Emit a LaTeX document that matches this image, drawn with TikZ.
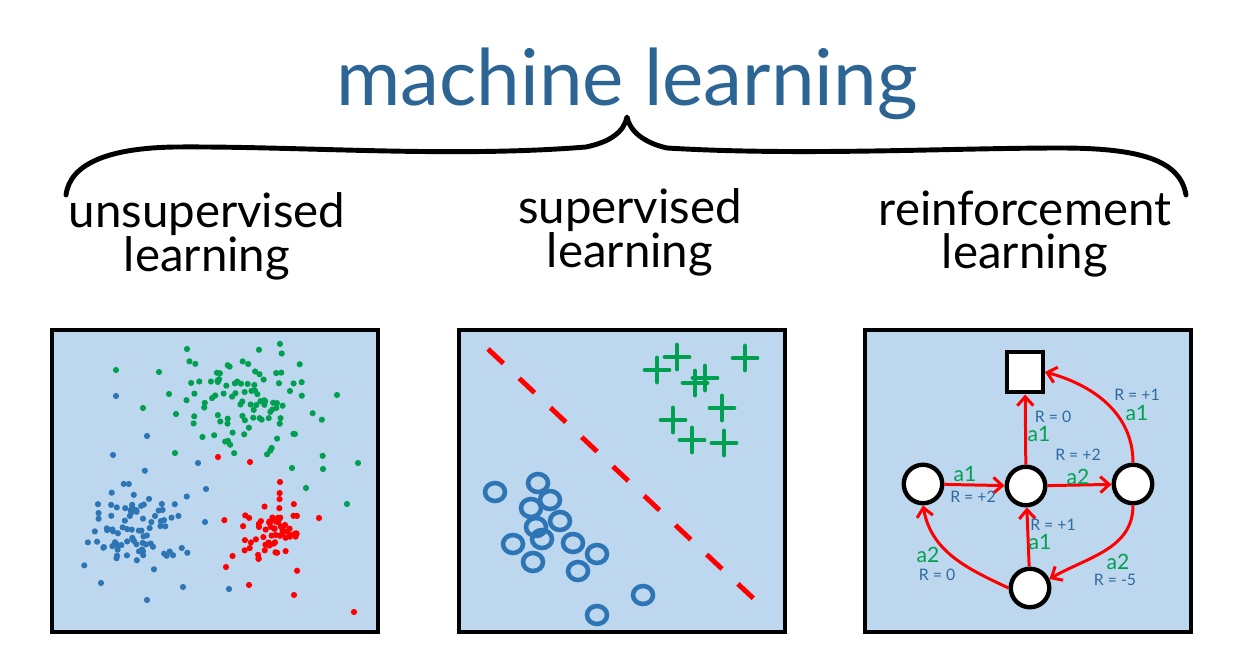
\documentclass[tikz,border=0pt]{standalone}
\usepackage{fontspec}
\setmainfont{Lato}
\usetikzlibrary{arrows.meta,positioning}
\definecolor{panelbg}{RGB}{189,215,238}
\definecolor{titleblue}{RGB}{44,100,148}
\definecolor{rblue}{RGB}{46,106,160}
\definecolor{dotblue}{RGB}{46,117,182}
\definecolor{dotgreen}{RGB}{0,160,80}
\definecolor{dotred}{RGB}{255,0,0}
\tikzset{
  panel/.style = {rectangle, draw=black, fill=panelbg, line width=2.3pt,
                  minimum width=6.52cm, minimum height=6.06cm, inner sep=0pt},
  title/.style = {text=titleblue, font=\fontsize{44.5}{48}\selectfont, inner sep=0pt},
  cat/.style   = {align=center, font=\fontsize{27}{25}\selectfont, inner sep=0pt},
  brace/.style = {line width=2.8pt, line cap=round, line join=round},
  ring/.style  = {draw=dotblue, line width=2.6pt},
  plus/.style  = {draw=dotgreen, line width=2.8pt, line cap=round},
  sep/.style   = {draw=dotred, line width=2.8pt, dash pattern=on 12pt off 12.4pt},
  state/.style = {circle, draw=black, fill=white, line width=2.5pt,
                  minimum size=0.77cm, inner sep=0pt},
  goal/.style  = {rectangle, draw=black, fill=white, line width=2.5pt,
                  minimum width=0.71cm, minimum height=0.81cm, inner sep=0pt},
  act/.style   = {-{Straight Barb[length=1.8mm, width=3.2mm]}, draw=dotred, line width=1.7pt},
  rlbl/.style  = {text=rblue, font=\fontsize{9}{10}\selectfont, inner sep=0pt},
  albl/.style  = {text=dotgreen, font=\fontsize{12}{13}\selectfont, inner sep=0pt},
}

\begin{document}
\begin{tikzpicture}[x=0.02cm, y=-0.02cm]
  \useasboundingbox (0,0) rectangle (1234,656);

  % title and brace
  \node[title, anchor=base] (ml) at (627,105) {machine learning};
  \draw[brace] (66,195) .. controls (70,163) and (110,148) .. (175,147)
    .. controls (300,146) and (450,158) .. (586,147)
    .. controls (610,142) and (624,132) .. (627,117)
    .. controls (630,132) and (645,143) .. (667,148)
    .. controls (800,156) and (950,148) .. (1060,148)
    .. controls (1140,148) and (1180,160) .. (1186,195);

  \node[cat] (ul) at (207,236) {unsupervised\\learning};
  \node[cat] (sl) at (630,232) {supervised\\learning};
  \node[cat] (rl) at (1025,234) {reinforcement\\learning};

  % panels
  \node[panel] (pu) at (215,481) {};
  \node[panel] (ps) at (622,481) {};
  \node[panel] (pr) at (1028,481) {};

  % unsupervised: three clusters
  \begin{scope}
    \clip (pu.south west) rectangle (pu.north east);
    \pgfmathsetseed{42}
    \foreach \i in {1,...,95}{
      \pgfmathsetmacro{\dx}{30*(rand+rand+rand)}
      \pgfmathsetmacro{\dy}{25*(rand+rand+rand)}
      \fill[dotgreen] ({250+\dx},{402+\dy}) circle (3.1);
    }
    \foreach \i in {1,...,85}{
      \pgfmathsetmacro{\dx}{23*(rand+rand+rand)}
      \pgfmathsetmacro{\dy}{23*(rand+rand+rand)}
      \fill[dotblue] ({138+\dx},{527+\dy}) circle (3.1);
    }
    \foreach \i in {1,...,65}{
      \pgfmathsetmacro{\dx}{19*(rand+rand+rand)}
      \pgfmathsetmacro{\dy}{19*(rand+rand+rand)}
      \fill[dotred] ({267+\dx},{528+\dy}) circle (3.1);
    }
    % stray points
    \foreach \x/\y in {116/370, 159/372, 169/394, 143/408, 176/414, 175/453,
                       337/395, 358/463, 347/504, 323/469, 306/488, 292/468, 187/349}
      \fill[dotgreen] (\x,\y) circle (3.1);
    \foreach \x/\y in {116/396, 147/436, 113/455, 198/463, 206/489,
                       101/583, 147/600, 183/587, 229/589, 205/522}
      \fill[dotblue] (\x,\y) circle (3.1);
    \foreach \x/\y in {218/457, 250/462, 280/482, 354/612, 294/595,
                       319/518, 226/567, 249/585}
      \fill[dotred] (\x,\y) circle (3.1);
  \end{scope}

  % supervised: two classes and a boundary
  \draw[sep] (488,349) -- (754,599);
  \foreach \x/\y in {657/370, 677/357, 745/358, 695/383, 705/378,
                     722/408, 673/420, 692/440, 724/443}
    \draw[plus] (\x,\y) +(-12,0) -- +(12,0) +(0,-12) -- +(0,12);
  \foreach \x/\y in {495/492, 538/483, 550/500, 531/508, 560/521,
                     536/527, 542/539, 513/544, 573/543, 597/554,
                     533/562, 578/571, 643/595, 597/615}
    \draw[ring] (\x,\y) ellipse (10 and 9);

  % reinforcement: states and actions
  \node[goal]  (g)  at (1025,372) {};
  \node[state] (s1) at (923,484) {};
  \node[state] (s2) at (1026,486) {};
  \node[state] (s3) at (1133,484) {};
  \node[state] (s4) at (1030,588) {};

  \draw[act] (s1) -- (s2);
  \draw[act] (s2) -- (g);
  \draw[act] (s2) -- (s3);
  \draw[act] (s4) -- (s2);
  \draw[act] (s3.north) to[out=90, in=-15] (g.east);
  \draw[act] (s3.south) to[out=-90, in=30] (s4.25);
  \draw[act] (s4.west) to[out=155, in=-80] (s1.south);

  \node[albl] (a12) at (965,474) {a1};
  \node[rlbl] (r12) at (973,497) {R = +2};
  \node[rlbl] (r2g) at (1053,417) {R = 0};
  \node[albl] (a2g) at (1039,434) {a1};
  \node[rlbl] (r23) at (1078,455) {R = +2};
  \node[albl] (a23) at (1078,477) {a2};
  \node[rlbl] (r3g) at (1137,395) {R = +1};
  \node[albl] (a3g) at (1137,413) {a1};
  \node[rlbl] (r42) at (1053,525) {R = +1};
  \node[albl] (a42) at (1040,542) {a1};
  \node[albl] (a34) at (1118,562) {a2};
  \node[rlbl] (r34) at (1115,580) {R = -5};
  \node[albl] (a41) at (928,555) {a2};
  \node[rlbl] (r41) at (937,575) {R = 0};
\end{tikzpicture}
\end{document}
